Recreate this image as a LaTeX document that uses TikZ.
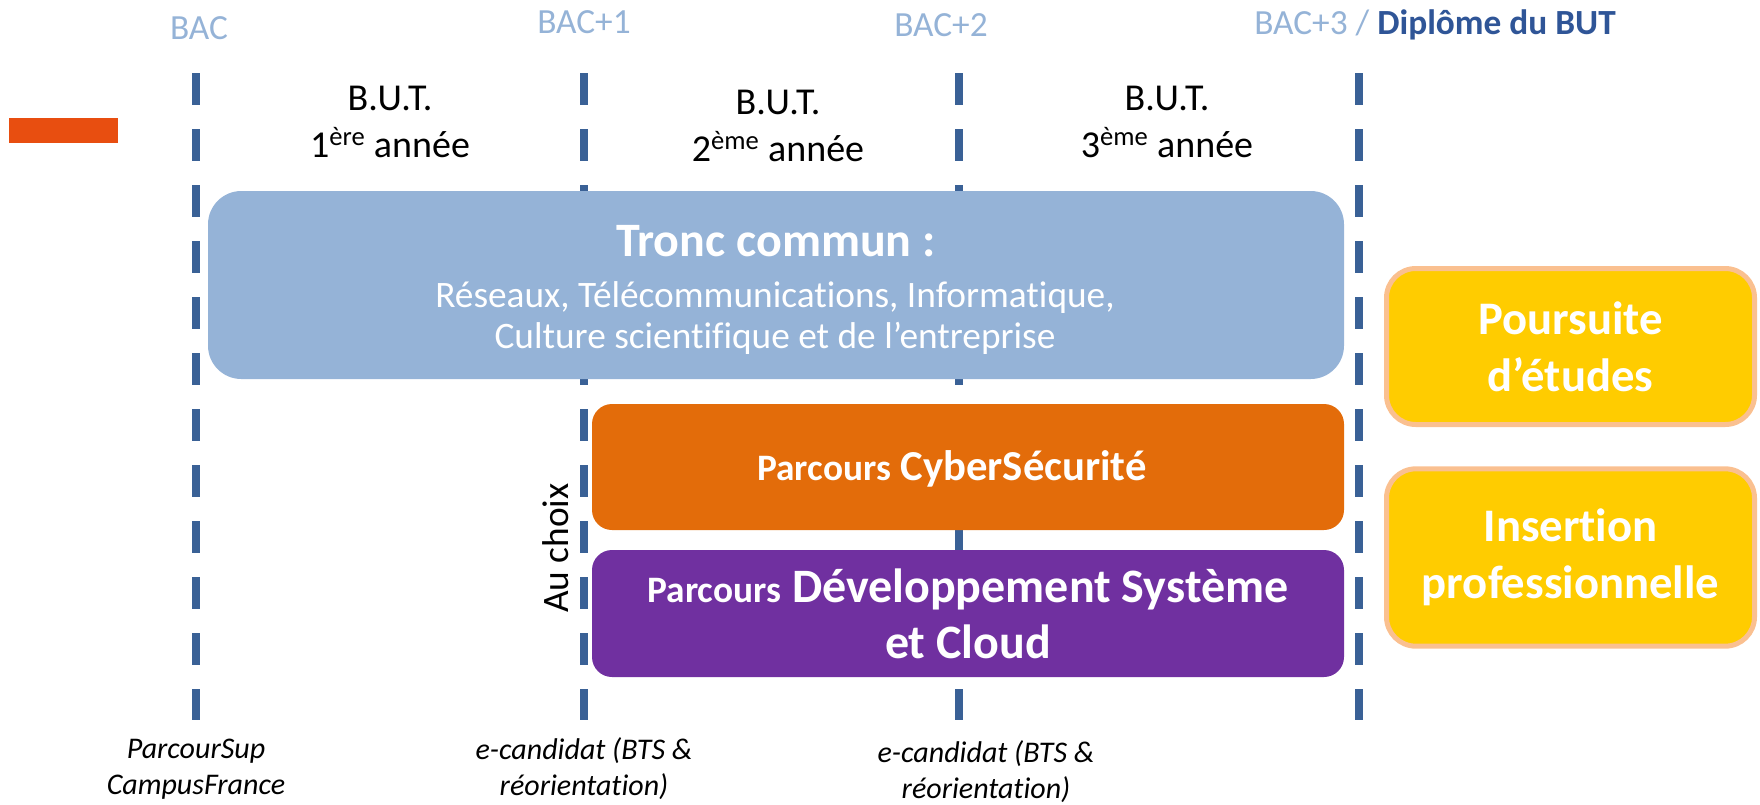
\documentclass[tikz,border=0pt]{standalone}
\usepackage{fontspec}
\setmainfont{Carlito}[RawFeature=-liga]
\definecolor{lignebleu}{HTML}{3A6196}
\definecolor{bacbleu}{HTML}{95B3D7}
\definecolor{diplbleu}{HTML}{2F5597}
\definecolor{tronc}{HTML}{95B3D7}
\definecolor{cyber}{HTML}{E36C0A}
\definecolor{cloud}{HTML}{7030A0}
\definecolor{jaune}{HTML}{FFCC00}
\definecolor{peche}{HTML}{FAC090}
\definecolor{marque}{HTML}{E84E10}
\begin{document}
\begin{tikzpicture}[x=0.75pt,y=-0.75pt,
    annee/.style={line width=6pt,lignebleu,dash pattern=on 24pt off 18pt},
    baclab/.style={text=bacbleu,font=\fontsize{26.5}{31}\selectfont},
    butlab/.style={align=center,font=\fontsize{28.5}{35}\selectfont},
    boite/.style={rounded corners=15pt,minimum width=564pt,text=white,align=center},
    sortie/.style={rounded corners=22pt,fill=jaune,draw=peche,line width=3.75pt,minimum width=276pt,text=white,align=center,font=\bfseries\fontsize{35}{43}\selectfont},
    admis/.style={align=center,font=\itshape\fontsize{22.5}{27}\selectfont}]
\useasboundingbox (0,0) rectangle (1760,804);
\foreach \x/\n in {196/a0,584/a1,959/a2,1359/a3}
  \draw[annee] (\x,73) coordinate (\n) -- (\x,720);
\fill[marque] (9,118) rectangle (118,143);
\node[baclab] (bac0) at (199,28) {BAC};
\node[baclab] (bac1) at (584,22) {BAC+1};
\node[baclab] (bac2) at (941,25) {BAC+2};
\node[baclab] (bac3) at (1435,25) {BAC+3 / \textcolor{diplbleu}{\bfseries Diplôme du BUT}};
\node[butlab] (but1) at (390,122) {B.U.T.\\1\textsuperscript{ère} année};
\node[butlab] (but2) at (778,126) {B.U.T.\\2\textsuperscript{ème} année};
\node[butlab] (but3) at (1167,122) {B.U.T.\\3\textsuperscript{ème} année};
\node[boite,fill=tronc,rounded corners=25pt,minimum width=852pt,minimum height=141pt] (commun) at (776,285) {};
\node[text=white,font=\bfseries\fontsize{36}{43}\selectfont] (communtitre) at (776,241) {Tronc commun :};
\node[text=white,align=center,font=\fontsize{28}{31}\selectfont] (communtexte) at (775,318) {Réseaux, Télécommunications, Informatique,\\Culture scientifique et de l’entreprise};
\node[boite,fill=cyber,minimum height=94.5pt] (cybersec) at (968,467) {};
\node[text=white,font=\bfseries\fontsize{32}{38}\selectfont] (cybertexte) at (952,469) {{\fontsize{28}{33}\selectfont Parcours} CyberSécurité};
\node[boite,fill=cloud,minimum height=95.25pt,font=\bfseries\fontsize{36}{42}\selectfont] (devcloud) at (968,613.5) {{\fontsize{28}{33}\selectfont Parcours} Développement Système\\et Cloud};
\node[rotate=90,font=\fontsize{28}{34}\selectfont] (choix) at (556,548) {Au choix};
\node[sortie,minimum height=117pt] (poursuite) at (1570.5,346.5) {Poursuite\\d’études};
\node[sortie,minimum height=133pt] (insertion) at (1570.5,557.5) {Insertion\\professionnelle};
\node[admis] (adm0) at (196,769) {ParcourSup\\CampusFrance};
\node[admis] (adm1) at (584,769) {e-candidat (BTS \&\\réorientation)};
\node[admis] (adm2) at (986,772) {e-candidat (BTS \&\\réorientation)};
\end{tikzpicture}
\end{document}
